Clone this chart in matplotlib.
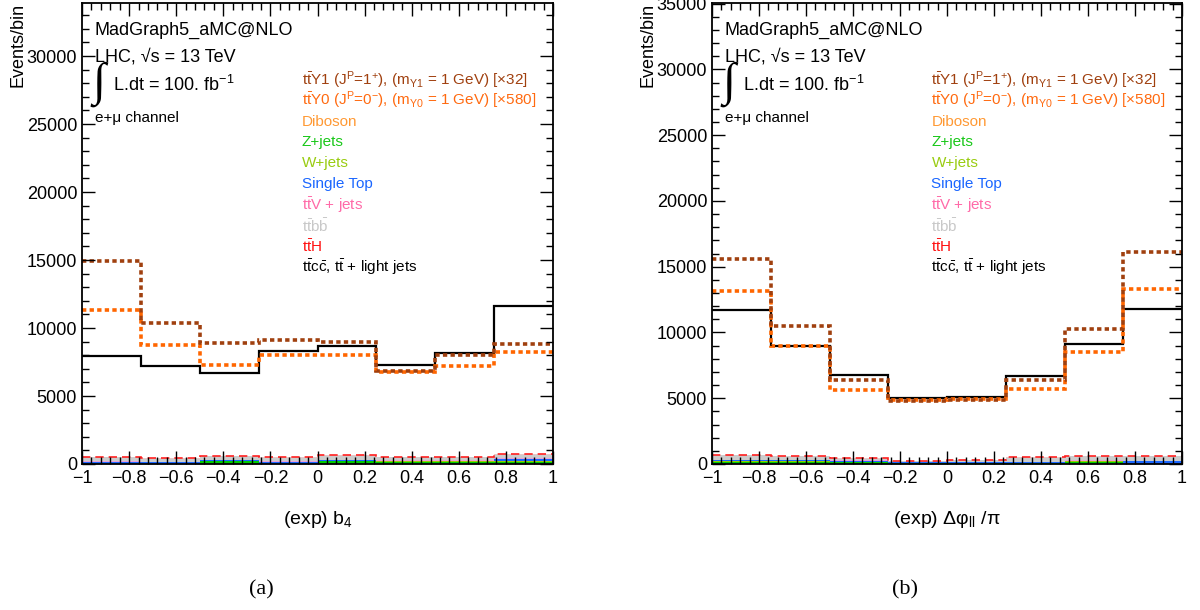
import numpy as np
import matplotlib
matplotlib.use('Agg')
import matplotlib.pyplot as plt
import matplotlib.transforms as mtrans
from matplotlib.ticker import AutoMinorLocator

plt.rcParams['font.family'] = ['Liberation Sans', 'DejaVu Sans']
plt.rcParams['mathtext.fontset'] = 'custom'
plt.rcParams['mathtext.rm'] = 'Liberation Sans'
plt.rcParams['mathtext.it'] = 'Liberation Sans:italic'
plt.rcParams['mathtext.bf'] = 'Liberation Sans:bold'
plt.rcParams['mathtext.sf'] = 'Liberation Sans'

# ---------------- data ----------------
bin_edges = [-1.0, -0.75, -0.5, -0.25, 0.0, 0.25, 0.5, 0.75, 1.0]

# panel (a): (exp) b4
a_light = [7940, 7200, 6700, 8300, 8650, 7300, 8150, 11650]
a_y1 = [14900, 10350, 8900, 9100, 8980, 6820, 8050, 8800]
a_y0 = [11350, 8750, 7280, 8000, 8050, 6760, 7200, 8230]
a_diboson = [30, 30, 30, 30, 30, 30, 30, 30]
a_zjets = [0, 0, 160, 0, 170, 150, 150, 140]
a_wjets = [0, 0, 30, 0, 30, 30, 30, 30]
a_singletop = [130, 120, 40, 130, 40, 30, 30, 190]
a_ttv = [30, 30, 30, 30, 30, 30, 30, 30]
a_ttbb = [330, 190, 270, 260, 310, 230, 230, 260]
a_tth = [20, 50, 50, 40, 50, 40, 40, 30]

# panel (b): (exp) delta phi_ll / pi
b_light = [11730, 8990, 6800, 5050, 5100, 6700, 9140, 11800]
b_y1 = [15580, 10510, 6400, 4820, 4870, 6400, 10280, 16120]
b_y0 = [13120, 8990, 5640, 4900, 4920, 5740, 8530, 13300]
b_diboson = [30, 30, 30, 30, 30, 30, 30, 30]
b_zjets = [150, 150, 120, 20, 20, 30, 150, 0]
b_wjets = [30, 30, 30, 0, 0, 0, 30, 0]
b_singletop = [90, 80, 60, 70, 70, 70, 50, 200]
b_ttv = [30, 30, 30, 60, 60, 60, 30, 30]
b_ttbb = [330, 280, 140, 60, 100, 270, 310, 340]
b_tth = [60, 40, 30, 20, 30, 40, 40, 40]

x_ticks = [-1, -0.8, -0.6, -0.4, -0.2, 0, 0.2, 0.4, 0.6, 0.8, 1]
x_ticklabels = ['\u22121', '\u22120.8', '\u22120.6', '\u22120.4', '\u22120.2', '0',
                '0.2', '0.4', '0.6', '0.8', '1']
a_yticks = [0, 5000, 10000, 15000, 20000, 25000, 30000]
b_yticks = [0, 5000, 10000, 15000, 20000, 25000, 30000, 35000]

legend_labels = [
    r'$\mathrm{t\bar{t}}$Y1 (J$^{\mathrm{P}}$=1$^{+}$), (m$_{\mathrm{Y1}}$ = 1 GeV) [×32]',
    r'$\mathrm{t\bar{t}}$Y0 (J$^{\mathrm{P}}$=0$^{-}$), (m$_{\mathrm{Y0}}$ = 1 GeV) [×580]',
    'Diboson', 'Z+jets', 'W+jets', 'Single Top',
    r'$\mathrm{t\bar{t}V}$ + jets',
    r'$\mathrm{t\bar{t}b\bar{b}}$',
    r'$\mathrm{t\bar{t}H}$',
    r'$\mathrm{t\bar{t}c\bar{c}}$, $\mathrm{t\bar{t}}$ + light jets',
]
legend_colors = ['#a0400f', '#ff6a10', '#ff9933', '#19c819', '#99cc11', '#1a66ff',
                 '#ff6aa8', '#c8c8c8', '#ff1010', '#000000']

# ---------------- figure ----------------
W, H = 1200, 610
fig = plt.figure(figsize=(12, 6.1), dpi=100)


def fx(px):
    return px / W


def fy(py):
    return 1 - py / H


stack_colors = ['#ff9900', '#00cc00', '#99cc00', '#1a66ff', '#e8a0d8', '#cccccc', '#e8c8c8']


def draw_panel(ax_rect, light, y1, y0, stack, ymax, yticks, xlabel, caption, cap_x):
    ax = fig.add_axes(ax_rect)
    edges = np.array(bin_edges)
    bottom = np.zeros(len(light))
    for vals, col in zip(stack, stack_colors):
        top = bottom + np.array(vals, dtype=float)
        ax.stairs(top, edges, baseline=bottom, fill=True, color=col, lw=0)
        bottom = top
    ax.stairs(bottom, edges, color='#ff2020', lw=1.2, linestyle=(0, (5, 3)), baseline=None)
    ax.stairs(light, edges, color='black', lw=1.6, baseline=None)
    ax.stairs(y0, edges, color='#ff6600', lw=2.6, linestyle=(0, (1.2, 0.9)), baseline=None)
    ax.stairs(y1, edges, color='#a0400f', lw=2.6, linestyle=(0, (1.2, 0.9)), baseline=None)

    ax.set_xlim(-1, 1)
    ax.set_ylim(0, ymax)
    ax.set_xticks(x_ticks)
    ax.set_xticklabels(x_ticklabels)
    ax.set_yticks(yticks)
    ax.set_yticklabels([str(v) for v in yticks])
    ax.xaxis.set_minor_locator(AutoMinorLocator(5))
    ax.yaxis.set_minor_locator(AutoMinorLocator(5))
    ax.tick_params(which='both', direction='in', top=True, right=True, labelsize=13, width=1)
    ax.tick_params(which='major', length=9.5)
    ax.tick_params(which='minor', length=5)
    ax.tick_params(axis='x', pad=4)
    for sp in ax.spines.values():
        sp.set_linewidth(1.3)

    bt = mtrans.blended_transform_factory(ax.transAxes, fig.transFigure)
    ax.text(0.027, fy(30), 'MadGraph5_aMC@NLO', transform=bt, fontsize=13, va='center', ha='left')
    ax.text(0.027, fy(57), 'LHC, \u221as = 13 TeV', transform=bt, fontsize=13, va='center', ha='left')
    ax.text(0.022, fy(84), '\u222b', transform=bt, fontsize=34, va='center', ha='left',
            family='Liberation Serif')
    ax.text(0.065, fy(85), r'L.dt = 100. fb$^{\mathrm{-1}}$', transform=bt, fontsize=13,
            va='center', ha='left')
    ax.text(0.027, fy(118), 'e+\u03bc channel', transform=bt, fontsize=11, va='center', ha='left')

    for i, (lab, col) in enumerate(zip(legend_labels, legend_colors)):
        ax.text(0.467, fy(80 + i * 20.8), lab, transform=bt, fontsize=11, color=col,
                va='center', ha='left')

    fig.text(fx(ax_rect[0] * W - 64), fy(3), 'Events/bin', rotation=90, ha='center', va='top',
             fontsize=13)
    cx = ax_rect[0] + ax_rect[2] / 2
    fig.text(cx, fy(520), xlabel, ha='center', va='center', fontsize=14)
    fig.text(fx(cap_x), fy(590), caption, ha='center', va='center', fontsize=16,
             family='Liberation Serif')
    return ax


stack_a = [a_diboson, a_zjets, a_wjets, a_singletop, a_ttv, a_ttbb, a_tth]
stack_b = [b_diboson, b_zjets, b_wjets, b_singletop, b_ttv, b_ttbb, b_tth]

draw_panel([fx(82), fy(464), fx(553) - fx(82), (464 - 3) / H], a_light, a_y1, a_y0, stack_a,
           33900, a_yticks, r'(exp) b$_{4}$', '(a)', 261)
draw_panel([fx(712), fy(464), fx(1182) - fx(712), (464 - 3) / H], b_light, b_y1, b_y0, stack_b,
           35050, b_yticks, '(exp) \u0394\u03c6$_{\\mathrm{ll}}$ /\u03c0', '(b)', 905)

fig.savefig('out.png', dpi=100)
